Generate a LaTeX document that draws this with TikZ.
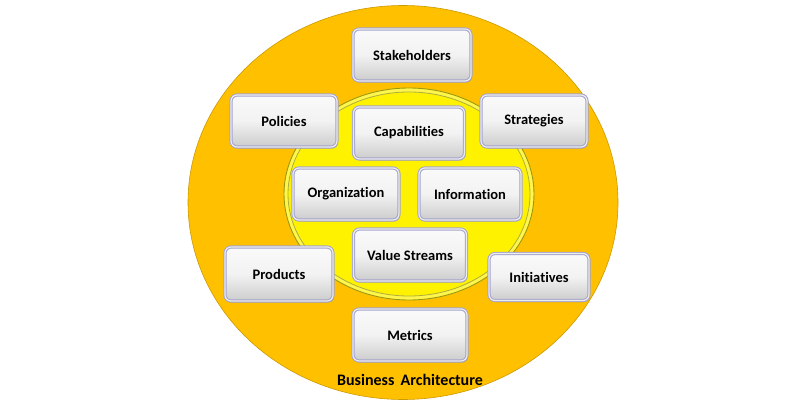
\documentclass[tikz,border=0pt]{standalone}
\usepackage{fontspec}
\setmainfont{Carlito}[Ligatures=NoCommon]
\usetikzlibrary{shadows}
\definecolor{gold}{HTML}{FFC000}
\definecolor{ringcol}{HTML}{9A9A10}
\begin{document}
\begin{tikzpicture}[x=1pt,y=1pt]

\tikzset{block/.style = {shape=rectangle, rounded corners=6pt, draw=gray!70!blue!55, line width=1pt,
  double=white!85!gray, double distance=1.2pt, top color=white!96!gray, bottom color=gray!40,
  middle color=white!90!gray, drop shadow={shadow xshift=1.2pt, shadow yshift=-1.6pt, opacity=0.4},
  minimum height=52pt, font=\fontsize{14.5}{16}\selectfont\bfseries}}
\useasboundingbox (0,0) rectangle (811,405);
% background
\fill[white] (0,0) rectangle (811,405);
\draw[fill=gold, draw=gold!80!black, line width=0.6pt] (403,202.5) ellipse [x radius=215, y radius=197];
\draw[fill=yellow!70!white, draw=ringcol, line width=0.9pt] (409,211) ellipse [x radius=125, y radius=106];
\draw[fill=yellow, draw=ringcol!80, line width=0.8pt] (409,211) ellipse [x radius=121, y radius=102];
% vertices
\node[block, minimum width=118pt] (stake) at (412,350) {Stakeholders};
\node[block, minimum width=106pt] (policy) at (284,284) {Policies};
\node[block, minimum width=111pt] (capab) at (409,272) {Capabilities};
\node[block, minimum width=106pt] (strat) at (534,284) {Strategies};
\node[block, minimum width=106pt] (org) at (346,211) {Organization};
\node[block, minimum width=102pt] (info) at (470,211) {Information};
\node[block, minimum width=113pt] (value) at (410,150) {Value Streams};
\node[block, minimum width=108pt, minimum height=54pt] (prod) at (279,131) {Products};
\node[block, minimum width=100pt, minimum height=47pt] (init) at (539,128) {Initiatives};
\node[block, minimum width=114pt] (metric) at (410,70) {Metrics};
% label
\node[font=\fontsize{16}{18}\selectfont\bfseries] (ba) at (410,25) {Business\ \,Architecture};
\end{tikzpicture}
\end{document}
